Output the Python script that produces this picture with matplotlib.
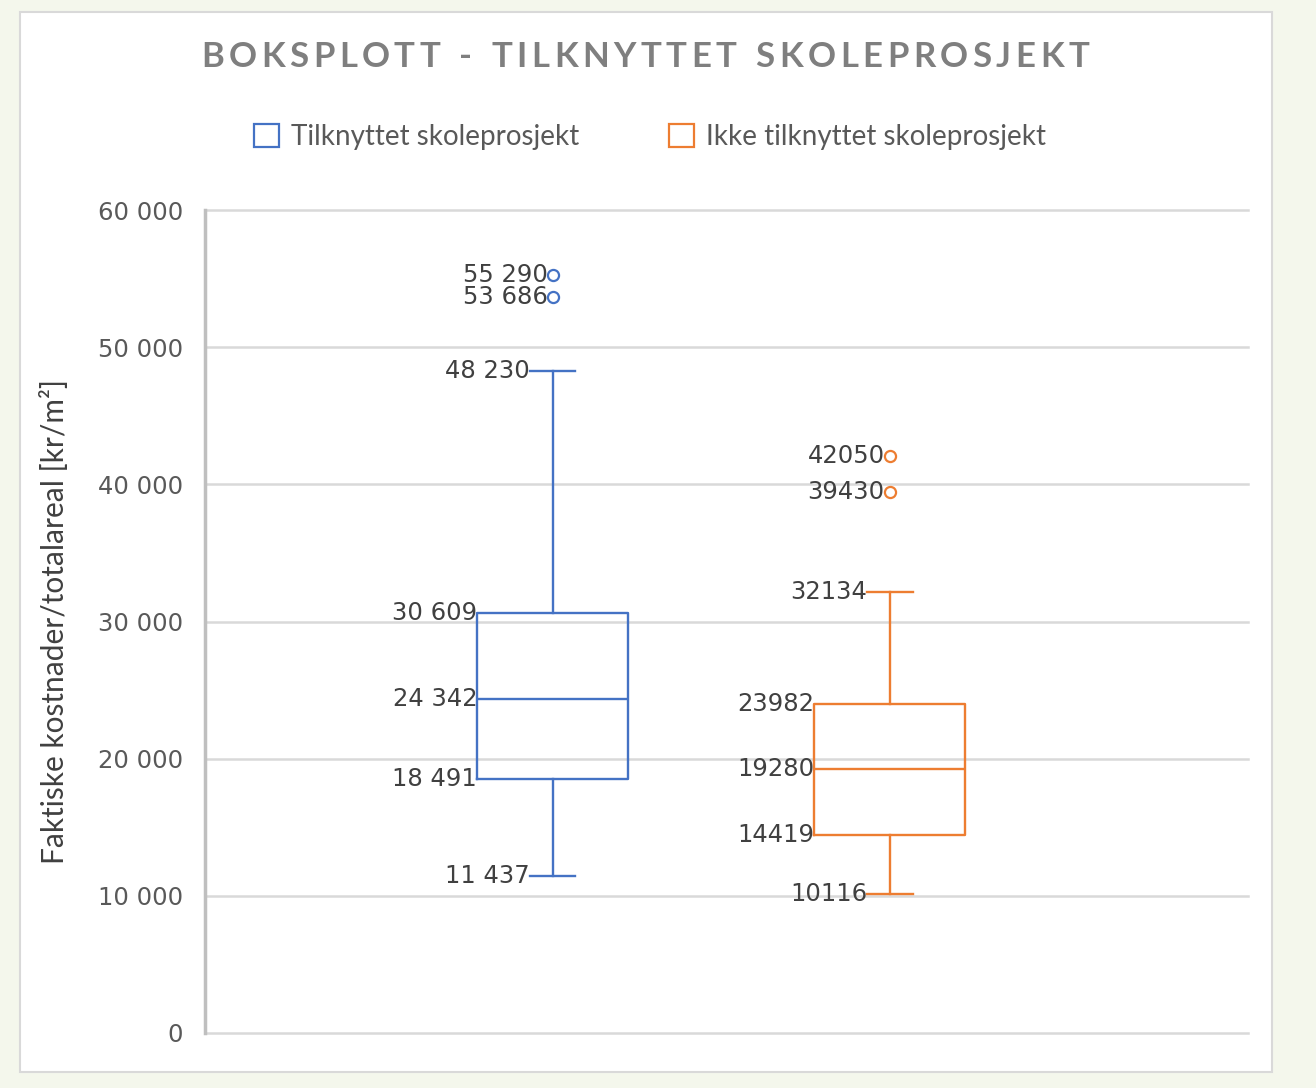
import matplotlib
matplotlib.use("Agg")
import matplotlib.pyplot as plt
from matplotlib.patches import Rectangle, Patch

W, H = 1316, 1088

# ---- data ----
series = ["Tilknyttet skoleprosjekt", "Ikke tilknyttet skoleprosjekt"]
colors = ["#4472C4", "#ED7D31"]
whislo = [11437, 10116]
q1 = [18491, 14419]
med = [24342, 19280]
q3 = [30609, 23982]
whishi = [48230, 32134]
fliers = [[55290, 53686], [42050, 39430]]
thousand_sep = [" ", ""]          # blue series labels use "55 290", orange "42050"
yticks = [0, 10000, 20000, 30000, 40000, 50000, 60000]
ytick_labels = ["0", "10 000", "20 000", "30 000", "40 000", "50 000", "60 000"]

TITLE = "BOKSPLOTT - TILKNYTTET SKOLEPROSJEKT"
YLABEL = "Faktiske kostnader/totalareal [kr/m²]"

positions = [1.0, 1.97]
box_w = 0.434
cap_w = 0.13


def fmt(v, sep):
    return f"{v:,.0f}".replace(",", sep)


def tracked_text(fig, s, x0_px, x1_px, y_px, space_w=10.0, **kw):
    """Place characters one by one so the string fills x0..x1 (letter spacing)."""
    r = fig.canvas.get_renderer()
    widths = []
    for ch in s:
        if ch == " ":
            widths.append(None)
            continue
        t = fig.text(0, 0, ch, **kw)
        widths.append(t.get_window_extent(r).width)
        t.remove()
    ink = sum(w for w in widths if w is not None) + space_w * widths.count(None)
    track = (x1_px - x0_px - ink) / (len(s) - 1)
    x = x0_px
    for ch, w in zip(s, widths):
        if w is None:
            x += space_w + track
            continue
        fig.text(x / W, 1 - y_px / H, ch, ha="left", va="center", **kw)
        x += w + track


fig = plt.figure(figsize=(W / 100, H / 100), dpi=100, facecolor="#f4f7ec")
fig.patches.append(Rectangle((20 / W, 1 - 1072 / H), 1252 / W, 1060 / H,
                             transform=fig.transFigure, facecolor="white",
                             edgecolor="#d9d9d9", linewidth=1.5, zorder=-1))

ax = fig.add_axes([205 / W, 1 - 1033 / H, (1248 - 205) / W, (1033 - 210) / H])
ax.set_zorder(2)
ax.set_facecolor("none")
ax.set_xlim(0, 3)
ax.set_ylim(0, 60000)

for s in ["top", "right", "bottom"]:
    ax.spines[s].set_visible(False)
ax.spines["left"].set_color("#bfbfbf")
ax.spines["left"].set_linewidth(2.5)
ax.set_xticks([])
ax.set_yticks(yticks)
ax.set_yticklabels(ytick_labels, fontsize=17.5, color="#595959",
                   family="DejaVu Sans")
ax.tick_params(axis="y", length=0, pad=16)
ax.set_axisbelow(True)
ax.yaxis.grid(True, color="#d9d9d9", linewidth=1.8)
for gl in ax.get_ygridlines():
    gl.set_clip_on(False)

for i, c in enumerate(colors):
    stats = [dict(med=med[i], q1=q1[i], q3=q3[i], whislo=whislo[i],
                  whishi=whishi[i], fliers=fliers[i], label=series[i])]
    lp = dict(color=c, linewidth=1.7)
    ax.bxp(stats, positions=[positions[i]], widths=box_w, capwidths=cap_w,
           boxprops=lp, medianprops=lp, whiskerprops=lp, capprops=lp,
           flierprops=dict(marker="o", markerfacecolor="none",
                           markeredgecolor=c, markersize=8,
                           markeredgewidth=1.6),
           manage_ticks=False)

    p = positions[i]
    sep = thousand_sep[i]
    lab = dict(ha="right", va="center", fontsize=17.5, color="#404040",
               family="DejaVu Sans")
    for v in fliers[i]:
        ax.text(p - 0.015, v, fmt(v, sep), **lab)
    for v in (whislo[i], whishi[i]):
        ax.text(p - cap_w / 2, v, fmt(v, sep), **lab)
    for v in (q1[i], med[i], q3[i]):
        ax.text(p - box_w / 2, v, fmt(v, sep), **lab)

ax.set_ylabel(YLABEL, fontsize=21.5, color="#404040", family="Lato")
ax.yaxis.set_label_coords((69 - 205) / (1248 - 205), (1033 - 621) / 823)

handles = [Patch(facecolor="white", edgecolor=c, linewidth=1.6) for c in colors]
fig.legend(handles, series, loc="center", ncol=2, frameon=False,
           bbox_to_anchor=(650 / W, 1 - 137 / H),
           prop=dict(family="Lato", size=20), labelcolor="#595959",
           handlelength=0.9, handleheight=0.9, handletextpad=0.45,
           columnspacing=3.2)

tracked_text(fig, TITLE, 201, 1089, 57, fontsize=25, color="#7f7f7f",
             family="Lato", fontweight="bold")

fig.savefig("out.png", dpi=100, facecolor=fig.get_facecolor())
